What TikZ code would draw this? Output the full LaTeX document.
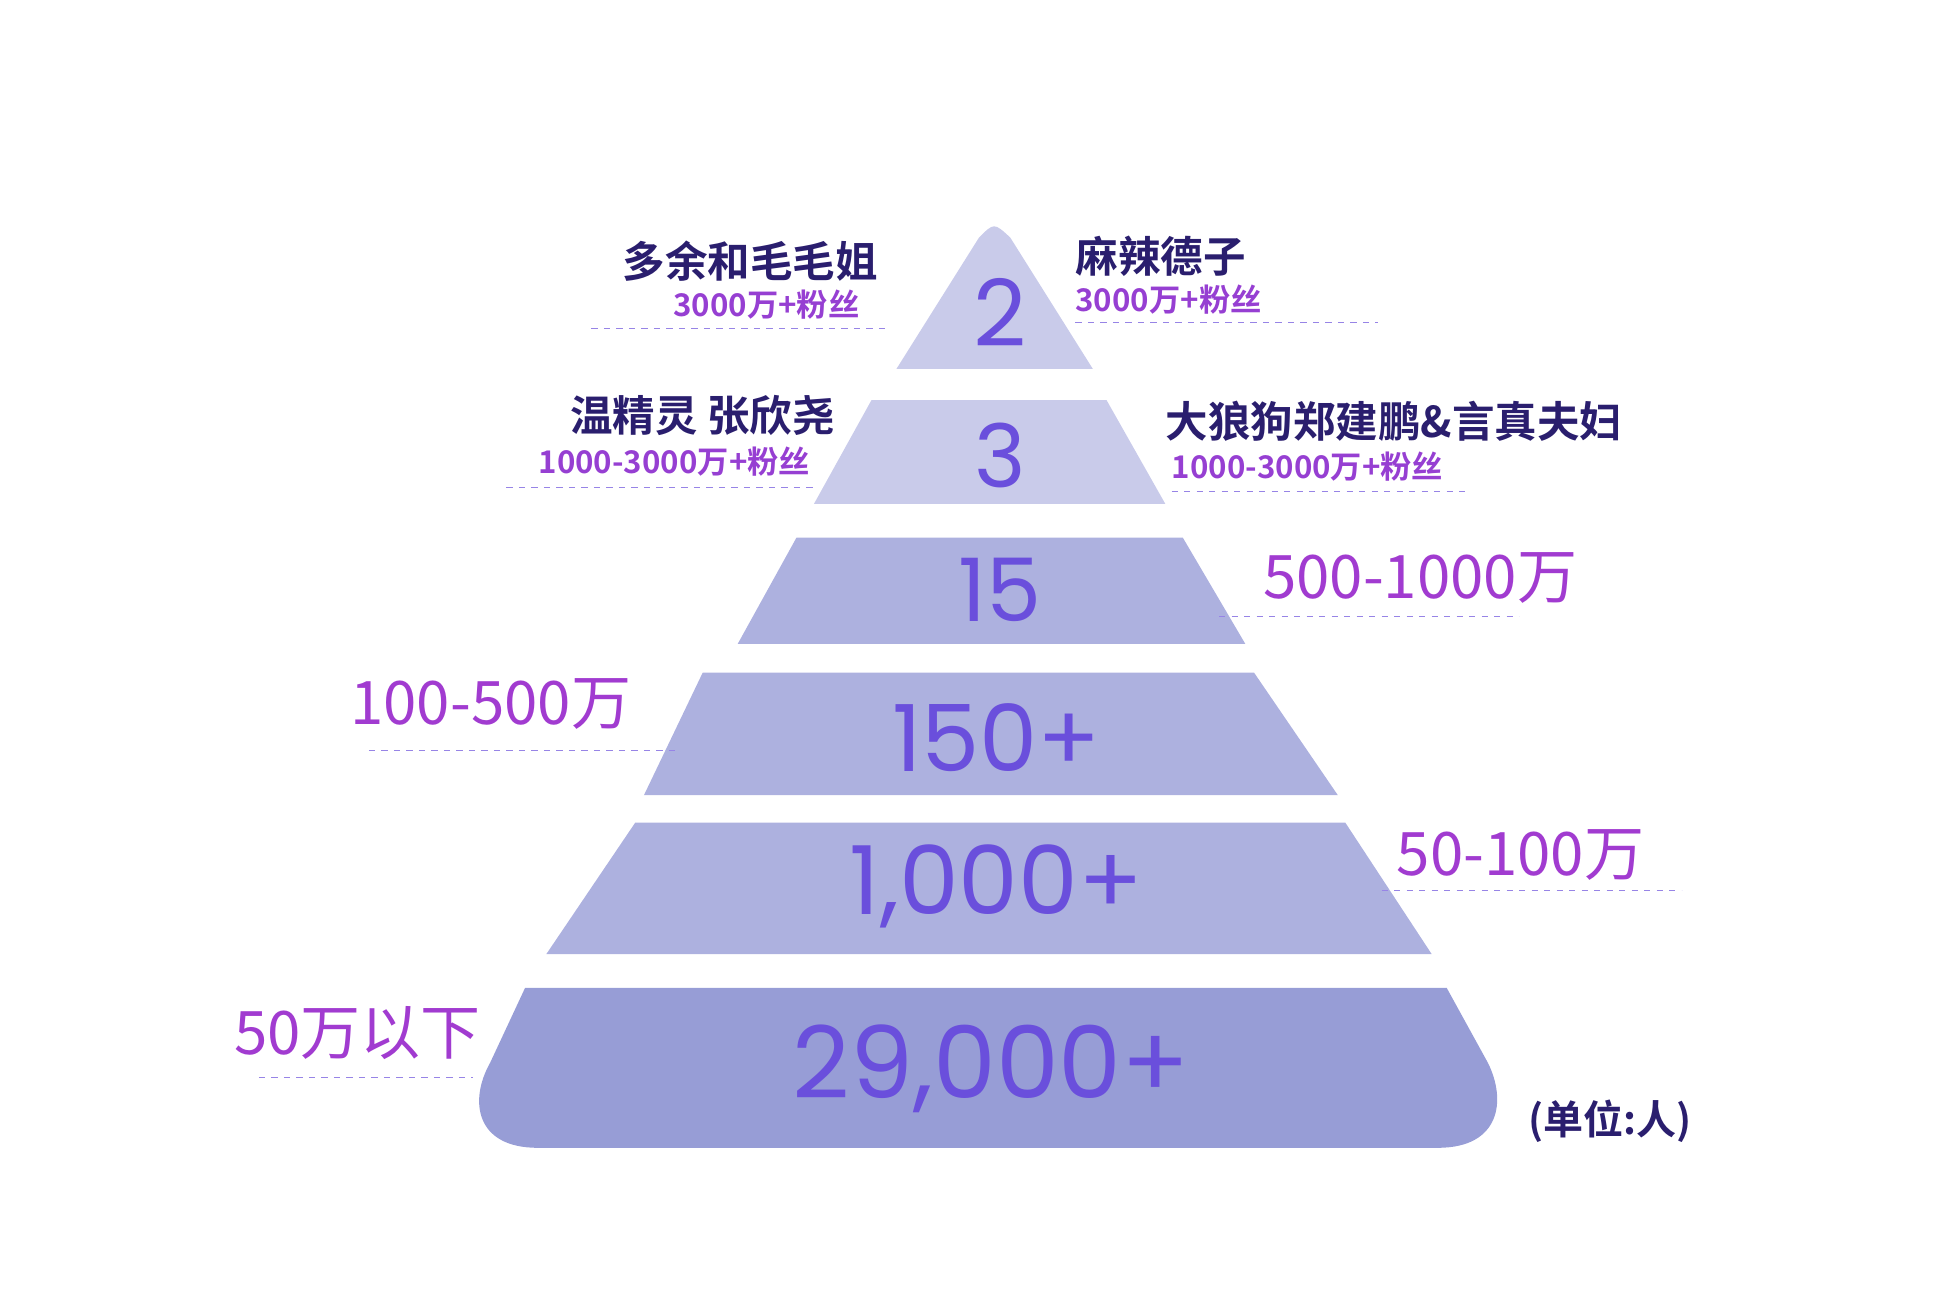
\documentclass[tikz,border=0pt]{standalone}
\usepackage{fontspec}
\newfontfamily\cjk{Noto Sans CJK SC}[BoldFont={Noto Sans CJK SC Bold}]
\newfontfamily\pop{Poppins}
\definecolor{navy}{HTML}{2A1E6E}
\definecolor{mag}{HTML}{B435CC}
\definecolor{pur}{HTML}{6A4FDC}
\definecolor{lA}{HTML}{C9CBEA}
\definecolor{lB}{HTML}{ADB1DF}
\definecolor{lC}{HTML}{979DD6}
\tikzset{
 numtxt/.style={font=\pop\fontsize{#1}{#1}\selectfont, text=pur, inner sep=0},
 nametxt/.style={font=\cjk\bfseries\fontsize{34}{34}\selectfont, text=navy, inner sep=0},
 subtxt/.style={font=\cjk\bfseries\fontsize{25}{25}\selectfont, text=mag!60!pur, inner sep=0},
 bigtxt/.style={font=\cjk\fontsize{48}{48}\selectfont, text=mag!75!pur, inner sep=0},
 dashln/.style={draw=pur!70, line width=1pt, dash pattern=on 5pt off 5pt}
}
\begin{document}
\begin{tikzpicture}[x=1pt,y=-1pt]
\useasboundingbox (0,0) rectangle (1550,1033);
% layers
\fill[lA] (717,295) -- (783,190) .. controls (795,178) .. (808,190) -- (874,295) -- cycle;
\fill[lA] (697,320) -- (885,320) -- (932,403) -- (651,403) -- cycle;
\fill[lB] (637,430) -- (946,430) -- (996,515) -- (590,515) -- cycle;
\fill[lB] (562,538) -- (1003,538) -- (1070,636) -- (515,636) -- cycle;
\fill[lB] (508,658) -- (1076,658) -- (1145,763) -- (437,763) -- cycle;
\fill[lC] (420,790) -- (1157,790) -- (1190,850) .. controls (1205,880) and (1200,918) .. (1150,918)
  -- (430,918) .. controls (380,918) and (375,880) .. (392,850) -- cycle;
% numbers
\node[numtxt=74] (n1) at (800,250) {2};
\node[numtxt=70] (n2) at (800,364) {3};
\node[numtxt=70] (n3) at (800,472) {15};
\node[numtxt=74] (n4) at (797,590) {150+};
\node[numtxt=76] (n5) at (797,709) {1,000+};
\node[numtxt=80] (n6) at (793,855) {29,000+};
% labels
\node[nametxt] (a1) at (600,209) {多余和毛毛姐};
\node[subtxt] (a2) at (613,244) {3000万+粉丝};
\draw[dashln] (473,263) -- (712,263);
\node[nametxt,anchor=west] (b1) at (860,205) {麻辣德子};
\node[subtxt,anchor=west] (b2) at (860,240) {3000万+粉丝};
\draw[dashln] (860,258) -- (1102,258);
\node[nametxt,anchor=east] (c1) at (668,332) {温精灵\ 张欣尧};
\node[subtxt,anchor=east] (c2) at (648,369) {1000-3000万+粉丝};
\draw[dashln] (405,390) -- (650,390);
\node[nametxt,anchor=west] (d1) at (932,337) {大狼狗郑建鹏\&言真夫妇};
\node[subtxt,anchor=west] (d2) at (937,373) {1000-3000万+粉丝};
\draw[dashln] (937,393) -- (1175,393);
\node[bigtxt,anchor=west] (e1) at (1010,462) {500-1000万};
\draw[dashln] (975,493) -- (1215,493);
\node[bigtxt,anchor=west] (f1) at (280,563) {100-500万};
\draw[dashln] (295,600) -- (540,600);
\node[bigtxt,anchor=west] (g1) at (1117,684) {50-100万};
\draw[dashln] (1105,712) -- (1345,712);
\node[bigtxt,anchor=west] (h1) at (187,826) {50万以下};
\draw[dashln] (207,862) -- (378,862);
\node[nametxt,anchor=west,font=\cjk\bfseries\fontsize{32}{32}\selectfont] (u) at (1222,897) {(单位:人)};
\end{tikzpicture}
\end{document}
